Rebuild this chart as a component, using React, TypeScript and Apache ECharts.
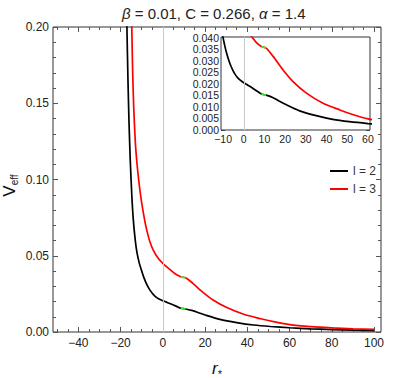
import React, { useEffect, useRef } from 'react';
import * as echarts from 'echarts';

const FONT = '"Liberation Sans", Arial, sans-serif';

const titleText = '{i|β} = 0.01, C = 0.266, {i|α} = 1.4';
const seriesNames = ['l = 2', 'l = 3'];

// l = 2 (black)
const l2X = [-17.5, -17.0, -16.5, -16.0, -15.4, -14.7, -14.0, -13.2, -12.3, -11.2, -10, -9, -8, -7, -6, -5, -4, -3, -2, -1, 0, 2, 4.5, 6.5, 8.5, 10.8, 14.2, 17, 20.6, 27, 35, 43, 51, 60, 70, 80, 90, 100];
const l2Y = [0.24, 0.2, 0.165, 0.137, 0.112, 0.09, 0.074, 0.062, 0.0525, 0.0455, 0.04, 0.0358, 0.0324, 0.0296, 0.0273, 0.0254, 0.0239, 0.0227, 0.0218, 0.0211, 0.0205, 0.0194, 0.018, 0.0168, 0.0156, 0.0151, 0.014, 0.0126, 0.0109, 0.0083, 0.0062, 0.0046, 0.0036, 0.0028, 0.0021, 0.0016, 0.0012, 0.0009];
// l = 3 (red)
const l3X = [-15.2, -14.7, -14.3, -13.8, -13.0, -12.2, -11.2, -10.2, -9.2, -8.2, -7.2, -6.2, -4.6, -2.2, 0, 3.7, 6, 8.5, 10.8, 14.2, 19, 23.8, 30.3, 38.3, 46.4, 53, 60, 70, 80, 90, 100];
const l3Y = [0.24, 0.2, 0.172, 0.148, 0.124, 0.11, 0.097, 0.0865, 0.078, 0.0705, 0.0645, 0.0595, 0.0538, 0.0483, 0.045, 0.0406, 0.038, 0.0362, 0.0355, 0.0319, 0.026, 0.021, 0.016, 0.0116, 0.0087, 0.0066, 0.0048, 0.0035, 0.0027, 0.0021, 0.0017];

const greenRange = [8.5, 10.8];

// axis ranges and ticks
const mainXRange = [-52, 103.3];
const mainYRange = [0, 0.2];
const mainXTicks = [-40, -20, 0, 20, 40, 60, 80, 100];
const mainYTicks = [0, 0.05, 0.1, 0.15, 0.2];
const insetXRange = [-11, 61];
const insetYRange = [0, 0.0403];
const insetXTicks = [-10, 0, 10, 20, 30, 40, 50, 60];
const insetYTicks = [0, 0.005, 0.01, 0.015, 0.02, 0.025, 0.03, 0.035, 0.04];

function steps(a: number, b: number, s: number): number[] {
  const out: number[] = [];
  const n = Math.round((b - a) / s);
  for (let i = 0; i <= n; i++) out.push(+(a + i * s).toFixed(6));
  return out;
}
const mainXMinor = steps(-50, 100, 5);
const mainYMinor = steps(0, 0.2, 0.01);
const insetXMinor = steps(-10, 60, 2);
const insetYMinor = steps(0, 0.04, 0.001);

const fmtX = (v: number) => (v < 0 ? '\u2212' + Math.abs(v) : String(v));

function pairs(xs: number[], ys: number[]) {
  return xs.map((x, i) => [x, ys[i]]);
}
function greenPart(xs: number[], ys: number[]) {
  return pairs(xs, ys).filter((p) => p[0] >= greenRange[0] && p[0] <= greenRange[1]);
}

function frameAxes(
  dim: 'x' | 'y',
  gridIndex: number,
  range: number[],
  majors: number[],
  minors: number[],
  fmt: (v: number) => string,
  fontSize: number,
  majorLen: number,
  minorLen: number,
  margin: number,
  extra: any
) {
  const posA = dim === 'x' ? 'bottom' : 'left';
  const posB = dim === 'x' ? 'top' : 'right';
  const base = {
    type: 'value',
    gridIndex,
    min: range[0],
    max: range[1],
    offset: 0,
    splitLine: { show: false },
    minorTick: { show: false },
    axisLine: { show: false, onZero: false },
  };
  const tickStyle = { color: '#555', width: 1 };
  const mk = (pos: string, vals: number[], len: number, labels: boolean, more: any) => ({
    ...base,
    position: pos,
    axisTick: { show: true, inside: true, length: len, customValues: vals, lineStyle: tickStyle },
    axisLabel: labels
      ? { show: true, customValues: majors, formatter: fmt, fontSize, color: '#222', fontFamily: FONT, margin }
      : { show: false },
    ...more,
  });
  return [
    mk(posA, majors, majorLen, true, extra),
    mk(posA, minors, minorLen, false, {}),
    mk(posB, majors, majorLen, false, {}),
    mk(posB, minors, minorLen, false, {}),
  ];
}

export default function App() {
  const ref = useRef<HTMLDivElement>(null);
  useEffect(() => {
    if (!ref.current) return;
    const chart = echarts.init(ref.current, null, { renderer: 'svg' });

    const xAxes = [
      ...frameAxes('x', 0, mainXRange, mainXTicks, mainXMinor, fmtX, 12, 5, 3, 5, {
        name: '{r|r}{s|*}',
        nameLocation: 'middle',
        nameGap: 26,
        nameTextStyle: {
          rich: {
            r: { fontSize: 17, fontStyle: 'italic', fontFamily: FONT, color: '#111' },
            s: { fontSize: 11, fontFamily: FONT, color: '#111', padding: [10, 0, 0, 0] },
          },
        },
      }),
      ...frameAxes('x', 1, insetXRange, insetXTicks, insetXMinor, fmtX, 10.5, 4, 2, 3, {}),
    ];
    const yAxes = [
      ...frameAxes('y', 0, mainYRange, mainYTicks, mainYMinor, (v) => v.toFixed(2), 12, 5, 3, 4, {
        name: '{v|V}{s|eff}',
        nameLocation: 'middle',
        nameRotate: 90,
        nameGap: 34,
        nameMoveOverlap: false,
        nameTextStyle: {
          rich: {
            v: { fontSize: 17, fontFamily: FONT, color: '#111' },
            s: { fontSize: 10, fontFamily: FONT, color: '#111', padding: [10, 12, 0, 0] },
          },
        },
      }),
      ...frameAxes('y', 1, insetYRange, insetYTicks, insetYMinor, (v) => v.toFixed(3), 10.5, 4, 2, 2, {}),
    ];

    const lineSeries = (name: string, data: number[][], color: string, xi: number, yi: number, z: number, extra: any = {}) => ({
      type: 'line',
      name,
      data,
      xAxisIndex: xi,
      yAxisIndex: yi,
      showSymbol: false,
      symbol: 'none',
      smooth: 0.25,
      clip: true,
      z,
      lineStyle: { color, width: 1.7 },
      itemStyle: { color },
      ...extra,
    });

    const zeroLine = {
      markLine: {
        silent: true,
        symbol: 'none',
        label: { show: false },
        lineStyle: { color: '#c8c8c8', width: 1, type: 'solid' },
        data: [{ xAxis: 0 }],
      },
    };

    const greenColor = '#33ee33';

    chart.setOption({
      animation: false,
      backgroundColor: '#fff',
      title: {
        text: titleText,
        left: 117,
        top: 1,
        textStyle: {
          fontSize: 15,
          fontWeight: 'normal',
          color: '#222',
          fontFamily: FONT,
          rich: { i: { fontSize: 15, fontStyle: 'italic', color: '#222', fontFamily: FONT } },
        },
      },
      legend: {
        orient: 'vertical',
        left: 325,
        top: 159,
        itemWidth: 18,
        itemHeight: 2,
        itemGap: 4,
        icon: 'rect',
        data: seriesNames,
        textStyle: { fontSize: 12, color: '#333', fontFamily: FONT, lineHeight: 14 },
      },
      grid: [
        {
          left: 53, top: 27, width: 328, height: 305, show: true, borderColor: '#333', borderWidth: 1,
          backgroundColor: 'transparent', containLabel: false, outerBoundsMode: 'none',
        },
        {
          left: 221, top: 37, width: 149, height: 93, show: true, backgroundColor: '#fff', borderColor: '#333',
          borderWidth: 1, containLabel: false, outerBoundsMode: 'none', z: 3,
        },
      ],
      xAxis: xAxes,
      yAxis: yAxes,
      series: [
        lineSeries(seriesNames[0], pairs(l2X, l2Y), '#000', 0, 0, 2, zeroLine),
        lineSeries(seriesNames[1], pairs(l3X, l3Y), '#ff0000', 0, 0, 2),
        lineSeries('g2', greenPart(l2X, l2Y), greenColor, 0, 0, 3),
        lineSeries('g3', greenPart(l3X, l3Y), greenColor, 0, 0, 3),
        lineSeries('inset ' + seriesNames[0], pairs(l2X, l2Y), '#000', 4, 4, 4, zeroLine),
        lineSeries('inset ' + seriesNames[1], pairs(l3X, l3Y), '#ff0000', 4, 4, 4),
        lineSeries('ig2', greenPart(l2X, l2Y), greenColor, 4, 4, 5),
        lineSeries('ig3', greenPart(l3X, l3Y), greenColor, 4, 4, 5),
      ],
    });
    return () => chart.dispose();
  }, []);
  return <div ref={ref} style={{ position: 'absolute', left: 0, top: 0, width: 412, height: 378 }} />;
}
